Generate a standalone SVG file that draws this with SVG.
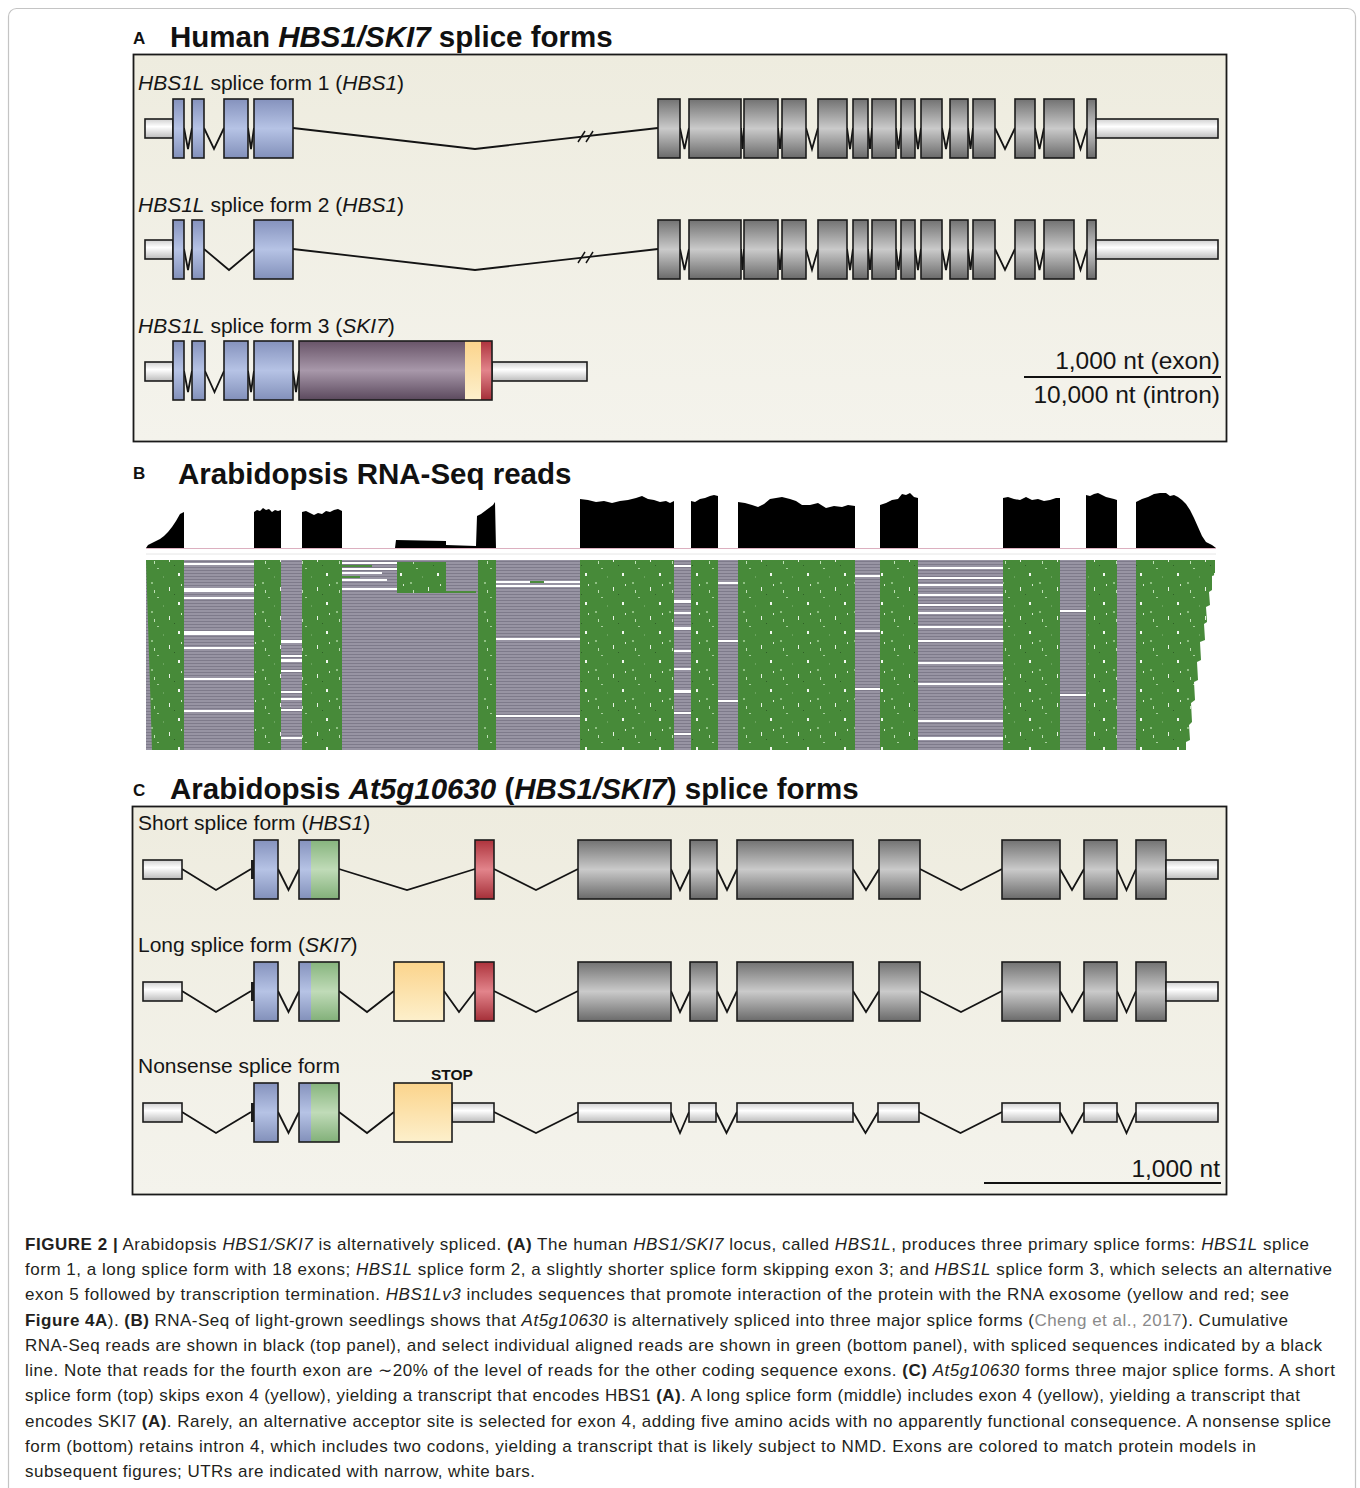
<svg xmlns="http://www.w3.org/2000/svg" width="1360" height="1488" viewBox="0 0 1360 1488">
<defs>
<linearGradient id="gGray" x1="0" y1="0" x2="0" y2="1"><stop offset="0" stop-color="#727272"/><stop offset="0.5" stop-color="#cacaca"/><stop offset="1" stop-color="#6a6a6a"/></linearGradient>
<linearGradient id="gBlue" x1="0" y1="0" x2="0" y2="1"><stop offset="0" stop-color="#8592bd"/><stop offset="0.5" stop-color="#b6c3e5"/><stop offset="1" stop-color="#8290ba"/></linearGradient>
<linearGradient id="gGreen" x1="0" y1="0" x2="0" y2="1"><stop offset="0" stop-color="#86b47d"/><stop offset="0.5" stop-color="#c0dbb8"/><stop offset="1" stop-color="#82b079"/></linearGradient>
<linearGradient id="gPurple" x1="0" y1="0" x2="0" y2="1"><stop offset="0" stop-color="#685468"/><stop offset="0.5" stop-color="#a898aa"/><stop offset="1" stop-color="#5b495d"/></linearGradient>
<linearGradient id="gYellow" x1="0" y1="0" x2="0" y2="1"><stop offset="0" stop-color="#fbd48c"/><stop offset="1" stop-color="#fdf0cc"/></linearGradient>
<linearGradient id="gRed" x1="0" y1="0" x2="0" y2="1"><stop offset="0" stop-color="#ad333c"/><stop offset="0.5" stop-color="#e2848b"/><stop offset="1" stop-color="#a52f38"/></linearGradient>
<linearGradient id="gUTR" x1="0" y1="0" x2="0" y2="1"><stop offset="0" stop-color="#d0d0d0"/><stop offset="0.4" stop-color="#ffffff"/><stop offset="1" stop-color="#bcbcbc"/></linearGradient>
<linearGradient id="gPanel" x1="0" y1="0" x2="0" y2="1"><stop offset="0" stop-color="#eeecdf"/><stop offset="1" stop-color="#f4f3ec"/></linearGradient>
<pattern id="pRead" width="6" height="3" patternUnits="userSpaceOnUse"><rect width="6" height="3" fill="#9894a3"/><rect width="6" height="1" fill="#7e7a8a"/></pattern>
<pattern id="pGreen" width="37" height="29" patternUnits="userSpaceOnUse"><rect width="37" height="29" fill="#478a39"/><rect x="3" y="2" width="2" height="2" fill="#8fc083"/><rect x="21" y="7" width="1" height="4" fill="#e8f2e4"/><rect x="9" y="17" width="2" height="1" fill="#a9d19f"/><rect x="30" y="22" width="2" height="3" fill="#f2f8f0"/><rect x="15" y="25" width="1" height="2" fill="#6aa35d"/><rect x="33" y="4" width="1" height="2" fill="#d6ead0"/><rect x="26" y="14" width="1" height="1" fill="#2e5f26"/><rect x="6" y="10" width="1" height="3" fill="#bfe0b6"/></pattern>
<style>
.ex{stroke:#1c1c1c;stroke-width:1.6}
.gray{fill:url(#gGray)}.blue{fill:url(#gBlue)}.green{fill:url(#gGreen)}.purple{fill:url(#gPurple)}.yellow{fill:url(#gYellow)}.red{fill:url(#gRed)}.utr{fill:url(#gUTR)}
.intr{fill:none;stroke:#141414;stroke-width:1.8;stroke-linejoin:miter}
.lbl{font-family:"Liberation Sans",Arial,sans-serif;font-size:21px;fill:#151515}
.ttl{font-family:"Liberation Sans",Arial,sans-serif;font-size:29.5px;font-weight:bold;fill:#111}
.let{font-family:"Liberation Sans",Arial,sans-serif;font-size:17px;font-weight:bold;fill:#111}
.scl{font-family:"Liberation Sans",Arial,sans-serif;font-size:24.5px;fill:#151515}
.cap{font-family:"Liberation Sans",Arial,sans-serif;font-size:17px;fill:#231f20}
.i{font-style:italic}.b{font-weight:bold}
.cov{fill:#000}
.wh{fill:#fff}
</style>
</defs>
<rect x="0" y="0" width="1360" height="1488" fill="#fff"/>
<rect x="8.5" y="8.5" width="1347" height="1492" rx="8" fill="none" stroke="#c4c4c4" stroke-width="1.2"/>

<!-- Panel A -->
<g id="panelA">
<text class="let" x="133" y="44">A</text>
<text class="ttl" x="170" y="47">Human <tspan class="i">HBS1/SKI7</tspan> splice forms</text>
<rect x="133.5" y="54.5" width="1093" height="387" fill="url(#gPanel)" stroke="#1a1a1a" stroke-width="1.8"/>
</g>

<g id="connectors">
<!-- A row1 -->
<polyline class="intr" points="184,128 188,149 192,128"/>
<polyline class="intr" points="204,128 214,149 224,128"/>
<polyline class="intr" points="248,128 251,149 254,128"/>
<polyline class="intr" points="293,128 475,149 658,128"/>
<polyline class="intr" points="680,128 684.5,149 689,128"/>
<polyline class="intr" points="741,128 742.5,149 744,128"/>
<polyline class="intr" points="778,128 780,149 782,128"/>
<polyline class="intr" points="806,128 812,149 818,128"/>
<polyline class="intr" points="847,128 850,149 853,128"/>
<polyline class="intr" points="868,128 870,149 872,128"/>
<polyline class="intr" points="896,128 898.5,149 901,128"/>
<polyline class="intr" points="915,128 918,149 921,128"/>
<polyline class="intr" points="942,128 946,149 950,128"/>
<polyline class="intr" points="968,128 970.5,149 973,128"/>
<polyline class="intr" points="995,128 1005,149 1015,128"/>
<polyline class="intr" points="1035,128 1039.5,149 1044,128"/>
<polyline class="intr" points="1074,128 1080.5,149 1087,128"/>
<line x1="578" y1="142" x2="585" y2="131" stroke="#141414" stroke-width="1.5"/>
<line x1="586" y1="142" x2="593" y2="131" stroke="#141414" stroke-width="1.5"/>
<!-- A row2 -->
<polyline class="intr" points="184,249 188,270 192,249"/>
<polyline class="intr" points="204,249 229,270 254,249"/>
<polyline class="intr" points="293,249 475,270 658,249"/>
<polyline class="intr" points="680,249 684.5,270 689,249"/>
<polyline class="intr" points="741,249 742.5,270 744,249"/>
<polyline class="intr" points="778,249 780,270 782,249"/>
<polyline class="intr" points="806,249 812,270 818,249"/>
<polyline class="intr" points="847,249 850,270 853,249"/>
<polyline class="intr" points="868,249 870,270 872,249"/>
<polyline class="intr" points="896,249 898.5,270 901,249"/>
<polyline class="intr" points="915,249 918,270 921,249"/>
<polyline class="intr" points="942,249 946,270 950,249"/>
<polyline class="intr" points="968,249 970.5,270 973,249"/>
<polyline class="intr" points="995,249 1005,270 1015,249"/>
<polyline class="intr" points="1035,249 1039.5,270 1044,249"/>
<polyline class="intr" points="1074,249 1080.5,270 1087,249"/>
<line x1="578" y1="263" x2="585" y2="252" stroke="#141414" stroke-width="1.5"/>
<line x1="586" y1="263" x2="593" y2="252" stroke="#141414" stroke-width="1.5"/>
<!-- A row3 -->
<polyline class="intr" points="184,371 188,392 192,371"/>
<polyline class="intr" points="205,371 214.5,392 224,371"/>
<polyline class="intr" points="248,371 251,392 254,371"/>
<polyline class="intr" points="293,371 296,392 299,371"/>
</g>

<g id="A-form1">
<text class="lbl" x="138" y="90"><tspan class="i">HBS1L</tspan> splice form 1 (<tspan class="i">HBS1</tspan>)</text>
<rect class="ex utr" x="145" y="119" width="28" height="19"/>
<rect class="ex blue" x="173" y="99" width="11" height="59"/>
<rect class="ex blue" x="192" y="99" width="12" height="59"/>
<rect class="ex blue" x="224" y="99" width="24" height="59"/>
<rect class="ex blue" x="254" y="99" width="39" height="59"/>
<rect class="ex gray" x="658" y="99" width="22" height="59"/>
<rect class="ex gray" x="689" y="99" width="52" height="59"/>
<rect class="ex gray" x="744" y="99" width="34" height="59"/>
<rect class="ex gray" x="782" y="99" width="24" height="59"/>
<rect class="ex gray" x="818" y="99" width="29" height="59"/>
<rect class="ex gray" x="853" y="99" width="15" height="59"/>
<rect class="ex gray" x="872" y="99" width="24" height="59"/>
<rect class="ex gray" x="901" y="99" width="14" height="59"/>
<rect class="ex gray" x="921" y="99" width="21" height="59"/>
<rect class="ex gray" x="950" y="99" width="18" height="59"/>
<rect class="ex gray" x="973" y="99" width="22" height="59"/>
<rect class="ex gray" x="1015" y="99" width="20" height="59"/>
<rect class="ex gray" x="1044" y="99" width="30" height="59"/>
<rect class="ex gray" x="1087" y="99" width="9" height="59"/>
<rect class="ex utr" x="1096" y="119" width="122" height="19"/>
</g>

<g id="A-form2">
<text class="lbl" x="138" y="212"><tspan class="i">HBS1L</tspan> splice form 2 (<tspan class="i">HBS1</tspan>)</text>
<rect class="ex utr" x="145" y="240" width="28" height="19"/>
<rect class="ex blue" x="173" y="220" width="11" height="59"/>
<rect class="ex blue" x="192" y="220" width="12" height="59"/>
<rect class="ex blue" x="254" y="220" width="39" height="59"/>
<rect class="ex gray" x="658" y="220" width="22" height="59"/>
<rect class="ex gray" x="689" y="220" width="52" height="59"/>
<rect class="ex gray" x="744" y="220" width="34" height="59"/>
<rect class="ex gray" x="782" y="220" width="24" height="59"/>
<rect class="ex gray" x="818" y="220" width="29" height="59"/>
<rect class="ex gray" x="853" y="220" width="15" height="59"/>
<rect class="ex gray" x="872" y="220" width="24" height="59"/>
<rect class="ex gray" x="901" y="220" width="14" height="59"/>
<rect class="ex gray" x="921" y="220" width="21" height="59"/>
<rect class="ex gray" x="950" y="220" width="18" height="59"/>
<rect class="ex gray" x="973" y="220" width="22" height="59"/>
<rect class="ex gray" x="1015" y="220" width="20" height="59"/>
<rect class="ex gray" x="1044" y="220" width="30" height="59"/>
<rect class="ex gray" x="1087" y="220" width="9" height="59"/>
<rect class="ex utr" x="1096" y="240" width="122" height="19"/>
</g>

<g id="A-form3">
<text class="lbl" x="138" y="333"><tspan class="i">HBS1L</tspan> splice form 3 (<tspan class="i">SKI7</tspan>)</text>
<rect class="ex utr" x="145" y="362" width="28" height="19"/>
<rect class="ex blue" x="173" y="341" width="11" height="59"/>
<rect class="ex blue" x="192" y="341" width="13" height="59"/>
<rect class="ex blue" x="224" y="341" width="24" height="59"/>
<rect class="ex blue" x="254" y="341" width="39" height="59"/>
<rect class="ex utr" x="492" y="362" width="95" height="19"/>
<rect class="purple" x="299" y="341" width="166" height="59"/>
<rect class="yellow" x="465" y="341" width="16" height="59"/>
<rect class="red" x="481" y="341" width="11" height="59"/>
<rect x="299" y="341" width="193" height="59" fill="none" stroke="#1c1c1c" stroke-width="1.6"/>
</g>

<g id="A-scale">
<text class="scl" x="1220" y="369" text-anchor="end">1,000 nt (exon)</text>
<line x1="1024" y1="377" x2="1221" y2="377" stroke="#111" stroke-width="2"/>
<text class="scl" x="1220" y="403" text-anchor="end">10,000 nt (intron)</text>
</g>

<!-- Panel B -->
<g id="panelB">
<text class="let" x="133" y="479">B</text>
<text class="ttl" x="178" y="484">Arabidopsis RNA-Seq reads</text>
<g id="coverage">
<line x1="146" y1="548.5" x2="1216" y2="548.5" stroke="#dcb0c0" stroke-width="1"/>
<path class="cov" d="M146,548 L148,545 L152,543 L156,541 L160,539 L164,536 L168,532 L172,527 L176,521 L180,514 L184,512 L184,548 Z"/>
<path class="cov" d="M254,548 L254,512 L257,510 L260,511 L263,508 L266,510 L269,509 L272,512 L275,510 L278,511 L281,510 L281,548 Z"/>
<path class="cov" d="M302,548 L302,512 L306,511 L310,513 L314,515 L318,513 L322,514 L326,511 L330,512 L334,510 L338,509 L342,511 L342,548 Z"/>
<path class="cov" d="M395,548 L396,540 L446,541 L446,545 L476,546 L477,516 L481,514 L485,511 L489,508 L493,505 L495,502 L496,548 Z"/>
<path class="cov" d="M580,548 L580,499 L588,500 L596,502 L604,501 L612,503 L620,501 L628,500 L636,498 L642,496 L648,499 L654,500 L660,502 L666,501 L670,503 L674,501 L674,548 Z"/>
<path class="cov" d="M691,548 L691,501 L695,502 L700,499 L705,498 L710,496 L714,495 L718,496 L718,548 Z"/>
<path class="cov" d="M738,548 L738,502 L745,503 L752,505 L758,507 L764,504 L770,499 L776,498 L782,497 L790,499 L796,501 L802,505 L810,505 L818,503 L826,508 L834,506 L842,507 L848,505 L855,506 L855,548 Z"/>
<path class="cov" d="M880,548 L880,505 L886,503 L892,500 L898,499 L902,494 L906,495 L910,493 L914,497 L918,498 L918,548 Z"/>
<path class="cov" d="M1003,548 L1003,498 L1008,497 L1014,499 L1020,500 L1026,497 L1032,500 L1038,499 L1044,501 L1050,500 L1056,498 L1060,498 L1060,548 Z"/>
<path class="cov" d="M1086,548 L1086,495 L1090,496 L1094,494 L1098,493 L1102,495 L1106,497 L1110,498 L1114,499 L1117,500 L1117,548 Z"/>
<path class="cov" d="M1136,548 L1136,502 L1142,499 L1148,497 L1154,494 L1160,493 L1166,493 L1170,496 L1174,495 L1178,497 L1182,500 L1186,504 L1190,510 L1194,518 L1198,527 L1202,536 L1206,542 L1212,545 L1216,548 Z"/>
</g>
<g id="reads">
<line x1="146" y1="554" x2="1216" y2="554" stroke="#e6e6e6" stroke-width="1"/>
<rect x="146" y="560" width="990" height="190" fill="url(#pRead)"/>
<g class="wh">
<rect x="184" y="563" width="70" height="2"/><rect x="184" y="588" width="70" height="4"/><rect x="184" y="597" width="70" height="2"/><rect x="184" y="631" width="70" height="4"/><rect x="184" y="647" width="70" height="2"/><rect x="184" y="678" width="70" height="2"/><rect x="184" y="710" width="70" height="2"/>
<rect x="281" y="640" width="21" height="3"/><rect x="281" y="655" width="21" height="2"/><rect x="281" y="659" width="21" height="3"/><rect x="281" y="670" width="21" height="2"/><rect x="281" y="691" width="21" height="2"/><rect x="281" y="698" width="21" height="2"/><rect x="281" y="709" width="21" height="2"/><rect x="281" y="737" width="21" height="2"/>
<rect x="342" y="562" width="55" height="2"/><rect x="342" y="568" width="55" height="2"/><rect x="342" y="572" width="40" height="2"/><rect x="342" y="579" width="45" height="2"/><rect x="342" y="588" width="55" height="2"/>
<rect x="496" y="581" width="84" height="2"/><rect x="496" y="585" width="84" height="2"/><rect x="496" y="638" width="84" height="2"/><rect x="496" y="715" width="84" height="2"/>
<rect x="674" y="565" width="17" height="2"/><rect x="674" y="600" width="17" height="3"/><rect x="674" y="612" width="17" height="2"/><rect x="674" y="627" width="17" height="3"/><rect x="674" y="650" width="17" height="2"/><rect x="674" y="668" width="17" height="2"/><rect x="674" y="690" width="17" height="3"/><rect x="674" y="712" width="17" height="2"/><rect x="674" y="733" width="17" height="2"/>
<rect x="718" y="582" width="20" height="2"/><rect x="718" y="640" width="20" height="2"/><rect x="718" y="700" width="20" height="2"/>
<rect x="855" y="575" width="25" height="2"/><rect x="855" y="630" width="25" height="2"/><rect x="855" y="688" width="25" height="2"/>
<rect x="918" y="567" width="85" height="2"/><rect x="918" y="577" width="85" height="2"/><rect x="918" y="584" width="85" height="2"/><rect x="918" y="594" width="85" height="2"/><rect x="918" y="604" width="85" height="2"/><rect x="918" y="612" width="85" height="2"/><rect x="918" y="626" width="85" height="2"/><rect x="918" y="640" width="85" height="2"/><rect x="918" y="662" width="85" height="2"/><rect x="918" y="683" width="85" height="2"/><rect x="918" y="720" width="85" height="2"/><rect x="918" y="737" width="85" height="3"/>
<rect x="1060" y="610" width="26" height="2"/><rect x="1060" y="694" width="26" height="2"/>
</g>
<g fill="url(#pGreen)">
<path d="M146,560 L184,560 L184,750 L152,750 Z"/>
<rect x="254" y="560" width="27" height="190"/>
<rect x="302" y="560" width="40" height="190"/>
<rect x="397" y="562" width="49" height="31"/>
<rect x="478" y="560" width="18" height="190"/>
<rect x="580" y="560" width="94" height="190"/>
<rect x="691" y="560" width="27" height="190"/>
<rect x="738" y="560" width="117" height="190"/>
<rect x="880" y="560" width="38" height="190"/>
<rect x="1003" y="560" width="57" height="190"/>
<rect x="1086" y="560" width="31" height="190"/>
<path d="M1136,560 L1215,560 L1215,575 L1212,576 L1212,590 L1209,592 L1210,605 L1206,607 L1207,622 L1204,624 L1205,640 L1200,642 L1201,660 L1197,662 L1198,680 L1194,682 L1195,700 L1191,703 L1192,722 L1189,725 L1190,740 L1186,742 L1186,750 L1136,750 Z"/>
</g>
<g fill="#4b8b3c">
<rect x="342" y="565" width="30" height="2"/><rect x="342" y="576" width="18" height="2"/><rect x="446" y="591" width="30" height="2"/><rect x="530" y="581" width="14" height="2"/>
</g>
</g>
</g>

<!-- Panel C -->
<g id="panelC">
<text class="let" x="133" y="796">C</text>
<text class="ttl" x="170" y="799">Arabidopsis <tspan class="i">At5g10630</tspan> (<tspan class="i">HBS1/SKI7</tspan>) splice forms</text>
<rect x="132.5" y="806.5" width="1094" height="388" fill="url(#gPanel)" stroke="#1a1a1a" stroke-width="1.8"/>
</g>

<g id="connectorsC">
<polyline class="intr" points="182,869 216,890 251,869"/>
<polyline class="intr" points="278,869 288.5,890 299,869"/>
<polyline class="intr" points="339,869 407,890 475,869"/>
<polyline class="intr" points="494,869 536,890 578,869"/>
<polyline class="intr" points="671,869 680,890 690,869"/>
<polyline class="intr" points="717,869 727,890 737,869"/>
<polyline class="intr" points="853,869 866,890 879,869"/>
<polyline class="intr" points="920,869 961,890 1002,869"/>
<polyline class="intr" points="1060,869 1072,890 1084,869"/>
<polyline class="intr" points="1117,869 1126.5,890 1136,869"/>
<polyline class="intr" points="182,991 216,1012 251,991"/>
<polyline class="intr" points="278,991 288.5,1012 299,991"/>
<polyline class="intr" points="339,991 367,1012 394,991"/>
<polyline class="intr" points="444,991 459,1012 475,991"/>
<polyline class="intr" points="494,991 536,1012 578,991"/>
<polyline class="intr" points="671,991 680,1012 690,991"/>
<polyline class="intr" points="717,991 727,1012 737,991"/>
<polyline class="intr" points="853,991 866,1012 879,991"/>
<polyline class="intr" points="920,991 961,1012 1002,991"/>
<polyline class="intr" points="1060,991 1072,1012 1084,991"/>
<polyline class="intr" points="1117,991 1126.5,1012 1136,991"/>
<polyline class="intr" points="182,1112 216,1133 251,1112"/>
<polyline class="intr" points="278,1112 288.5,1133 299,1112"/>
<polyline class="intr" points="339,1112 367,1133 394,1112"/>
<polyline class="intr" points="494,1112 536,1133 578,1112"/>
<polyline class="intr" points="671,1112 680,1133 689,1112"/>
<polyline class="intr" points="716,1112 726.5,1133 737,1112"/>
<polyline class="intr" points="853,1112 865.5,1133 878,1112"/>
<polyline class="intr" points="919,1112 960.5,1133 1002,1112"/>
<polyline class="intr" points="1060,1112 1072,1133 1084,1112"/>
<polyline class="intr" points="1117,1112 1126.5,1133 1136,1112"/>
</g>

<g id="C-short">
<text class="lbl" x="138" y="830">Short splice form (<tspan class="i">HBS1</tspan>)</text>
<rect class="ex utr" x="143" y="860" width="39" height="19"/>
<rect x="251" y="860" width="3" height="19" fill="#1c1c1c"/>
<rect class="ex blue" x="254" y="840" width="24" height="59"/>
<rect class="blue" x="299" y="840" width="12" height="59"/>
<rect class="green" x="311" y="840" width="28" height="59"/>
<rect x="299" y="840" width="40" height="59" fill="none" class="ex"/>
<rect class="ex red" x="475" y="840" width="19" height="59"/>
<rect class="ex gray" x="578" y="840" width="93" height="59"/>
<rect class="ex gray" x="690" y="840" width="27" height="59"/>
<rect class="ex gray" x="737" y="840" width="116" height="59"/>
<rect class="ex gray" x="879" y="840" width="41" height="59"/>
<rect class="ex gray" x="1002" y="840" width="58" height="59"/>
<rect class="ex gray" x="1084" y="840" width="33" height="59"/>
<rect class="ex gray" x="1136" y="840" width="30" height="59"/>
<rect class="ex utr" x="1166" y="860" width="52" height="19"/>
</g>

<g id="C-long">
<text class="lbl" x="138" y="952">Long splice form (<tspan class="i">SKI7</tspan>)</text>
<rect class="ex utr" x="143" y="982" width="39" height="19"/>
<rect x="251" y="982" width="3" height="19" fill="#1c1c1c"/>
<rect class="ex blue" x="254" y="962" width="24" height="59"/>
<rect class="blue" x="299" y="962" width="12" height="59"/>
<rect class="green" x="311" y="962" width="28" height="59"/>
<rect x="299" y="962" width="40" height="59" fill="none" class="ex"/>
<rect class="ex yellow" x="394" y="962" width="50" height="59"/>
<rect class="ex red" x="475" y="962" width="19" height="59"/>
<rect class="ex gray" x="578" y="962" width="93" height="59"/>
<rect class="ex gray" x="690" y="962" width="27" height="59"/>
<rect class="ex gray" x="737" y="962" width="116" height="59"/>
<rect class="ex gray" x="879" y="962" width="41" height="59"/>
<rect class="ex gray" x="1002" y="962" width="58" height="59"/>
<rect class="ex gray" x="1084" y="962" width="33" height="59"/>
<rect class="ex gray" x="1136" y="962" width="30" height="59"/>
<rect class="ex utr" x="1166" y="982" width="52" height="19"/>
</g>

<g id="C-nonsense">
<text class="lbl" x="138" y="1073">Nonsense splice form</text>
<text x="431" y="1080" font-family="Liberation Sans, Arial, sans-serif" font-size="15.5" font-weight="bold" fill="#111">STOP</text>
<rect class="ex utr" x="143" y="1103" width="39" height="19"/>
<rect x="251" y="1103" width="3" height="19" fill="#1c1c1c"/>
<rect class="ex blue" x="254" y="1083" width="24" height="59"/>
<rect class="blue" x="299" y="1083" width="12" height="59"/>
<rect class="green" x="311" y="1083" width="28" height="59"/>
<rect x="299" y="1083" width="40" height="59" fill="none" class="ex"/>
<rect class="ex utr" x="452" y="1103" width="42" height="19"/>
<rect class="ex yellow" x="394" y="1083" width="58" height="59"/>
<rect class="ex utr" x="578" y="1103" width="93" height="19"/>
<rect class="ex utr" x="689" y="1103" width="27" height="19"/>
<rect class="ex utr" x="737" y="1103" width="116" height="19"/>
<rect class="ex utr" x="878" y="1103" width="41" height="19"/>
<rect class="ex utr" x="1002" y="1103" width="58" height="19"/>
<rect class="ex utr" x="1084" y="1103" width="33" height="19"/>
<rect class="ex utr" x="1136" y="1103" width="82" height="19"/>
</g>

<g id="C-scale">
<text class="scl" x="1220" y="1177" text-anchor="end">1,000 nt</text>
<line x1="984" y1="1183" x2="1221" y2="1183" stroke="#111" stroke-width="2"/>
</g>

<g id="caption">
<text class="cap" x="25" y="1250" textLength="1284"><tspan class="b">FIGURE 2 |</tspan> Arabidopsis <tspan class="i">HBS1/SKI7</tspan> is alternatively spliced. <tspan class="b">(A)</tspan> The human <tspan class="i">HBS1/SKI7</tspan> locus, called <tspan class="i">HBS1L</tspan>, produces three primary splice forms: <tspan class="i">HBS1L</tspan> splice</text>
<text class="cap" x="25" y="1275" textLength="1307">form 1, a long splice form with 18 exons; <tspan class="i">HBS1L</tspan> splice form 2, a slightly shorter splice form skipping exon 3; and <tspan class="i">HBS1L</tspan> splice form 3, which selects an alternative</text>
<text class="cap" x="25" y="1300" textLength="1264">exon 5 followed by transcription termination. <tspan class="i">HBS1Lv3</tspan> includes sequences that promote interaction of the protein with the RNA exosome (yellow and red; see</text>
<text class="cap" x="25" y="1326" textLength="1263"><tspan class="b">Figure 4A</tspan>). <tspan class="b">(B)</tspan> RNA-Seq of light-grown seedlings shows that <tspan class="i">At5g10630</tspan> is alternatively spliced into three major splice forms (<tspan fill="#8a8a8a">Cheng et al., 2017</tspan>). Cumulative</text>
<text class="cap" x="25" y="1351" textLength="1297">RNA-Seq reads are shown in black (top panel), and select individual aligned reads are shown in green (bottom panel), with spliced sequences indicated by a black</text>
<text class="cap" x="25" y="1376" textLength="1310">line. Note that reads for the fourth exon are ∼20% of the level of reads for the other coding sequence exons. <tspan class="b">(C)</tspan> <tspan class="i">At5g10630</tspan> forms three major splice forms. A short</text>
<text class="cap" x="25" y="1401" textLength="1275">splice form (top) skips exon 4 (yellow), yielding a transcript that encodes HBS1 <tspan class="b">(A)</tspan>. A long splice form (middle) includes exon 4 (yellow), yielding a transcript that</text>
<text class="cap" x="25" y="1427" textLength="1306">encodes SKI7 <tspan class="b">(A)</tspan>. Rarely, an alternative acceptor site is selected for exon 4, adding five amino acids with no apparently functional consequence. A nonsense splice</text>
<text class="cap" x="25" y="1452" textLength="1231">form (bottom) retains intron 4, which includes two codons, yielding a transcript that is likely subject to NMD. Exons are colored to match protein models in</text>
<text class="cap" x="25" y="1477" textLength="510">subsequent figures; UTRs are indicated with narrow, white bars.</text>
</g>
</svg>
